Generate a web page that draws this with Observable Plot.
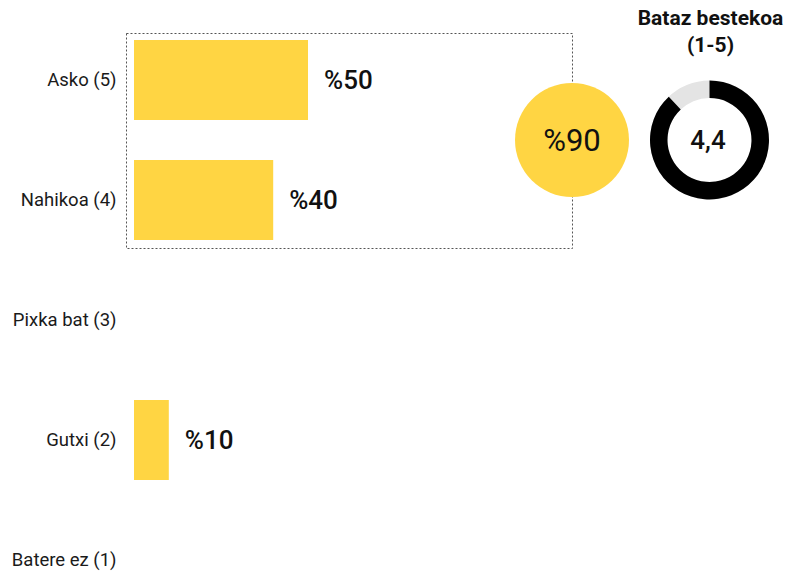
<!DOCTYPE html>
<html>
<head>
<meta charset="utf-8">
<script src="https://cdn.jsdelivr.net/npm/d3@7"></script>
<script src="https://cdn.jsdelivr.net/npm/@observablehq/plot@0.6"></script>
<style>
  html, body { margin: 0; padding: 0; background: #fff; overflow: hidden; }
  #wrap { width: 788px; height: 571px; overflow: hidden; font-family: Roboto, sans-serif; }
  svg { display: block; }
</style>
</head>
<body>
<div id="wrap"></div>
<script>
// ---- data ----
const categories = ["Asko (5)", "Nahikoa (4)", "Pixka bat (3)", "Gutxi (2)", "Batere ez (1)"];
const percents = [50, 40, 0, 10, 0];
const topBoxCategories = ["Asko (5)", "Nahikoa (4)"];
const topBoxValue = 90;
const meanValue = 4.4;
const meanLabel = "4,4";
const scaleMax = 5;
const summaryTitle = ["Bataz bestekoa", "(1-5)"];

const yellow = "#ffd543";
const data = categories.map((c, i) => ({category: c, value: percents[i]}));

const chart = Plot.plot({
  width: 788,
  height: 640,
  marginLeft: 134,
  marginRight: 306,
  marginTop: 0,
  marginBottom: 0,
  style: {fontFamily: "Roboto, sans-serif", color: "#1a1a1a", background: "#fff"},
  x: {domain: [0, 100], axis: null},
  y: {domain: categories, paddingInner: 0.337, paddingOuter: 0.32, label: null},
  marks: [
    Plot.axisY({tickSize: 0, tickPadding: 18, fontSize: 18.5, label: null}),
    Plot.barX(data, {x: "value", y: "category", fill: yellow}),
    Plot.text(data.filter(d => d.value > 0), {
      x: "value", y: "category", text: d => "%" + d.value,
      textAnchor: "start", dx: 15.5, fontSize: 26, fontWeight: 500, fill: "#111"
    })
  ]
});
document.getElementById("wrap").appendChild(chart);

// ---- summary (dashed box, top-box circle, mean donut) placed with Plot's scales ----
(function () {
  const xs = chart.scale("x"), ys = chart.scale("y");
  const x = v => xs.apply(v), y = v => ys.apply(v);
  const bw = ys.bandwidth;
  const svg = d3.select(chart);
  const g = svg.append("g").attr("font-family", "Roboto, sans-serif");
  const boxTop = y(topBoxCategories[0]);
  const boxBottom = y(topBoxCategories[topBoxCategories.length - 1]) + bw;
  const cy = (boxTop + boxBottom) / 2;
  const boxRight = 572;
  g.append("rect")
    .attr("x", x(0) - 8 + 0.5).attr("y", boxTop - 7 + 0.5)
    .attr("width", boxRight - (x(0) - 8)).attr("height", boxBottom - boxTop + 15)
    .attr("fill", "none").attr("stroke", "#555").attr("stroke-width", 1)
    .attr("stroke-dasharray", "2,2");
  g.append("circle").attr("cx", boxRight).attr("cy", cy).attr("r", 57).attr("fill", yellow);
  g.append("text").attr("x", boxRight).attr("y", cy).attr("dy", "0.36em")
    .attr("text-anchor", "middle").attr("font-size", 31).attr("fill", "#111")
    .text("%" + topBoxValue);
  const dcx = 709.5;
  const arc = d3.arc().innerRadius(42).outerRadius(59.5);
  const dg = g.append("g").attr("transform", `translate(${dcx},${cy})`);
  dg.append("path").attr("d", arc({startAngle: 0, endAngle: 2 * Math.PI})).attr("fill", "#e4e4e4");
  dg.append("path").attr("d", arc({startAngle: 0, endAngle: 2 * Math.PI * meanValue / scaleMax})).attr("fill", "#000");
  dg.append("text").attr("x", -1.5).attr("y", 0).attr("dy", "0.36em").attr("text-anchor", "middle")
    .attr("font-size", 26).attr("font-weight", 500).attr("fill", "#111").text(meanLabel);
  summaryTitle.forEach((t, i) => {
    g.append("text").attr("x", dcx + 1).attr("y", 25 + i * 26.5).attr("text-anchor", "middle")
      .attr("font-size", 21).attr("font-weight", 700).attr("fill", "#111").text(t);
  });
})();
</script>
</body>
</html>
